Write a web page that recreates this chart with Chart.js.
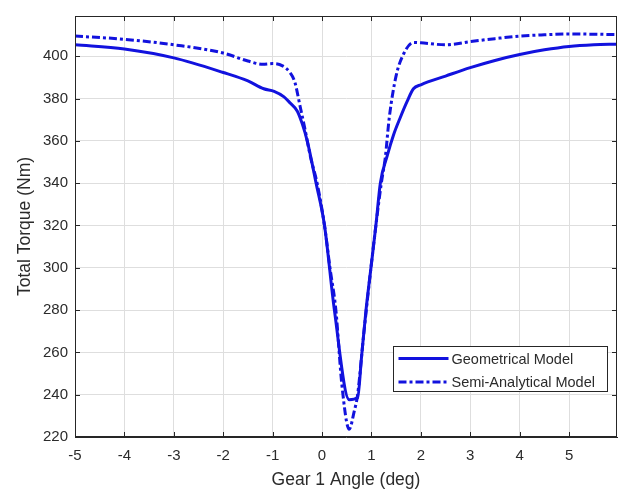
<!DOCTYPE html>
<html>
<head>
<meta charset="utf-8">
<script src="https://cdn.jsdelivr.net/npm/chart.js@4.4.1/dist/chart.umd.min.js"></script>
<style>
  html, body { margin: 0; padding: 0; background: #fff; }
</style>
</head>
<body>
<canvas id="torqueChart" width="628" height="495"></canvas>
<script>
// Geometrical model (solid line)
const geoAngle = [-5, -4, -3, -2, -1.5, -1.18, -0.97, -0.77, -0.65, -0.5, -0.4, -0.3, -0.12, 0.05, 0.25, 0.55,
  0.72, 0.8, 0.89, 0.99, 1.09, 1.18, 1.32, 1.45, 1.58, 1.72, 1.85, 2, 2.5, 3, 3.5, 4, 4.5, 5, 5.5, 5.97];
const geoTorque = [405.4, 403.4, 399.2, 392.3, 388.3, 384.6, 383.4, 380.8, 378, 374, 368, 360, 340, 320, 280, 237.6,
  238.5, 258, 280, 300, 320, 340, 353, 363, 370.8, 378.5, 384.6, 386.5, 390.6, 394.6, 398, 400.8, 403, 404.6, 405.4, 405.7];

// Semi-analytical model (dash-dot line)
const semiAngle = [-5, -4, -3, -2, -1.5, -1.2, -1, -0.8, -0.65, -0.55, -0.45, -0.35, -0.23, -0.1, 0.05, 0.16, 0.28, 0.4, 0.55,
  0.65, 0.72, 0.85, 0.99, 1.09, 1.2, 1.28, 1.36, 1.5, 1.66, 1.85, 2, 2.5, 3, 3.5, 4, 4.5, 5, 5.5, 5.97];
const semiTorque = [409.5, 408, 405.4, 401.5, 397.7, 396.2, 396.5, 395.4, 392.3, 387.7, 377, 366, 352, 340, 320, 300, 280, 245, 223.7,
  232, 240, 270, 300, 320, 340, 352, 370.8, 390.8, 401.5, 406.5, 406.3, 405.4, 406.9, 408.3, 409.5, 410.1, 410.5, 410.4, 410.2];

const xTickValues = [-5, -4, -3, -2, -1, 0, 1, 2, 3, 4, 5];
const yTickValues = [220, 240, 260, 280, 300, 320, 340, 360, 380, 400];

const seriesNames = ['Geometrical Model', 'Semi-Analytical Model'];

const lineBlue = 'rgb(18, 18, 222)';
const textGray = '#2b2b2b';
const axisFont = '"Liberation Sans", Arial, sans-serif';

function toPoints(xs, ys) {
    return xs.map((v, i) => ({ x: v, y: ys[i] }));
}

// box, inner ticks and legend drawn the MATLAB way
const framePlugin = {
    id: 'frame',
    afterDatasetsDraw(chart) {
        const { ctx, chartArea: a, scales: { x, y } } = chart;
        ctx.save();
        ctx.strokeStyle = '#262626';
        ctx.lineWidth = 1;
        ctx.strokeRect(a.left + 0.5, a.top + 0.5, a.right - a.left - 1, a.bottom - a.top - 1);

        ctx.beginPath();
        xTickValues.forEach(v => {
            const px = Math.round(x.getPixelForValue(v)) + 0.5;
            ctx.moveTo(px, a.bottom); ctx.lineTo(px, a.bottom - 5);
            ctx.moveTo(px, a.top); ctx.lineTo(px, a.top + 5);
        });
        yTickValues.forEach(v => {
            const py = Math.round(y.getPixelForValue(v)) + 0.5;
            ctx.moveTo(a.left, py); ctx.lineTo(a.left + 5, py);
            ctx.moveTo(a.right, py); ctx.lineTo(a.right - 5, py);
        });
        ctx.stroke();

        // legend box
        const boxW = 214, boxH = 45;
        const bx = Math.round(a.right - 10 - boxW) + 0.5;
        const by = Math.round(a.bottom - 46 - boxH) + 0.5;
        ctx.fillStyle = '#fff';
        ctx.fillRect(bx, by, boxW, boxH);
        ctx.strokeStyle = '#262626';
        ctx.strokeRect(bx, by, boxW, boxH);

        ctx.font = '14.5px ' + axisFont;
        ctx.textBaseline = 'middle';
        ctx.textAlign = 'left';
        chart.data.datasets.forEach((ds, i) => {
            const ly = by + 12 + i * 23.5;
            ctx.beginPath();
            ctx.strokeStyle = ds.borderColor;
            ctx.lineWidth = ds.borderWidth;
            ctx.setLineDash(ds.borderDash || []);
            ctx.moveTo(bx + 5, ly);
            ctx.lineTo(bx + 55, ly);
            ctx.stroke();
            ctx.setLineDash([]);
            ctx.fillStyle = textGray;
            ctx.fillText(ds.label, bx + 58, ly + 1);
        });
        ctx.restore();
    }
};

const ctx = document.getElementById('torqueChart').getContext('2d');
const torqueChart = new Chart(ctx, {
    type: 'line',
    data: {
        datasets: [
            {
                label: seriesNames[0],
                data: toPoints(geoAngle, geoTorque),
                borderColor: lineBlue,
                borderWidth: 3,
                pointRadius: 0,
                cubicInterpolationMode: 'monotone',
                fill: false
            },
            {
                label: seriesNames[1],
                data: toPoints(semiAngle, semiTorque),
                borderColor: lineBlue,
                borderWidth: 3,
                borderDash: [8, 3, 3, 3],
                pointRadius: 0,
                cubicInterpolationMode: 'monotone',
                fill: false
            }
        ]
    },
    options: {
        responsive: false,
        animation: false,
        devicePixelRatio: 1,
        layout: { padding: { left: 0, top: 6, right: 11, bottom: 0 } },
        plugins: {
            legend: { display: false },
            tooltip: { enabled: false }
        },
        scales: {
            x: {
                type: 'linear',
                min: -5,
                max: 5.97,
                afterBuildTicks: scale => { scale.ticks = xTickValues.map(v => ({ value: v })); },
                afterFit: scale => { scale.height = 58; },
                grid: { color: '#dedede', drawTicks: false },
                border: { display: true, color: '#262626' },
                ticks: {
                    color: textGray,
                    font: { size: 15, family: axisFont },
                    padding: 10,
                    maxRotation: 0,
                    autoSkip: false
                },
                title: {
                    display: true,
                    text: 'Gear 1 Angle (deg)',
                    color: textGray,
                    font: { size: 17.5, family: axisFont },
                    padding: { top: 0, bottom: 4 }
                }
            },
            y: {
                min: 220,
                max: 419,
                afterBuildTicks: scale => { scale.ticks = yTickValues.map(v => ({ value: v })); },
                afterFit: scale => { scale.width = 75; },
                grid: { color: '#dedede', drawTicks: false },
                border: { display: true, color: '#262626' },
                ticks: {
                    color: textGray,
                    font: { size: 15, family: axisFont },
                    padding: 7
                },
                title: {
                    display: true,
                    text: 'Total Torque (Nm)',
                    color: textGray,
                    font: { size: 17.5, family: axisFont },
                    padding: { top: 15, bottom: 0 }
                }
            }
        }
    },
    plugins: [framePlugin]
});
</script>
</body>
</html>
